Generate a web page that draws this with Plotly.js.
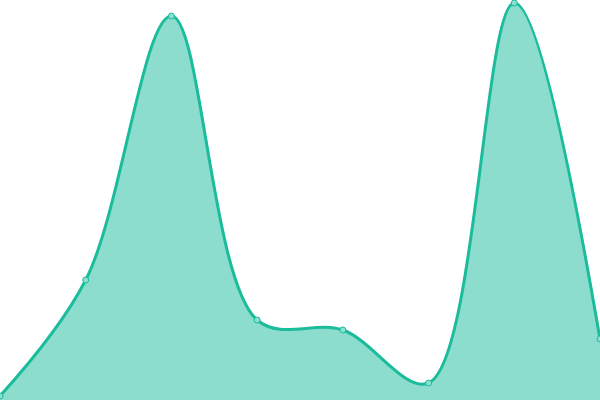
<!DOCTYPE html>
<html>
<head>
<meta charset="utf-8">
<script src="https://cdn.plot.ly/plotly-3.0.1.min.js"></script>
<style>
  html, body { margin: 0; padding: 0; background: #fff; }
  #chart { width: 600px; height: 400px; }
</style>
</head>
<body>
<div id="chart"></div>
<script>
const xValues = [0, 1, 2, 3, 4, 5, 6, 7];
const yValues = [4, 120, 384, 80, 70, 17, 397, 61];

const LINE_COLOR = '#1abc9c';

Plotly.newPlot('chart', [{
  type: 'scatter',
  mode: 'lines+markers',
  x: xValues,
  y: yValues,
  fill: 'tozeroy',
  fillcolor: 'rgba(26,188,156,0.5)',
  line: { color: LINE_COLOR, width: 3, shape: 'spline', smoothing: 1 },
  marker: { size: 6, color: '#8ddfcf', line: { color: LINE_COLOR, width: 1 } },
  hoverinfo: 'skip',
}], {
  width: 600,
  height: 400,
  margin: { t: 0, r: 0, b: 0, l: 0 },
  showlegend: false,
  xaxis: { range: [0, 7], visible: false, fixedrange: true },
  yaxis: { range: [0, 400], visible: false, fixedrange: true },
  paper_bgcolor: '#fff',
  plot_bgcolor: '#fff',
}, { displayModeBar: false, staticPlot: true });
</script>
</body>
</html>
